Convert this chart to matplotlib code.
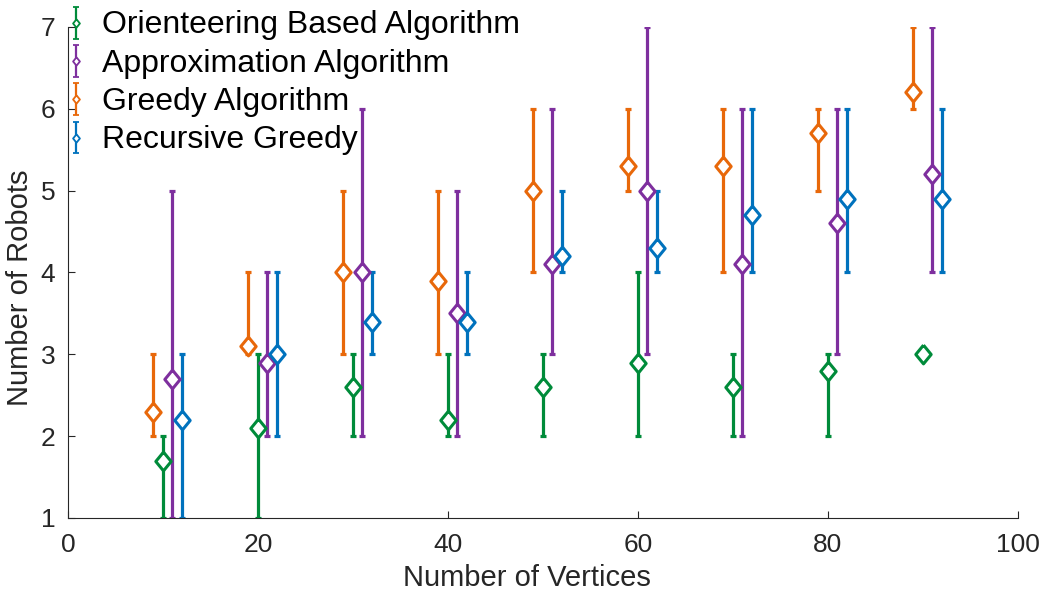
import matplotlib
matplotlib.use("Agg")
import matplotlib.pyplot as plt
import numpy as np

plt.rcParams['font.family'] = ['Liberation Sans', 'DejaVu Sans']

vertices = [10, 20, 30, 40, 50, 60, 70, 80, 90]

orient_mean = [1.7, 2.1, 2.6, 2.2, 2.6, 2.9, 2.6, 2.8, 3.0]
orient_min = [1, 1, 2, 2, 2, 2, 2, 2, 3]
orient_max = [2, 3, 3, 3, 3, 4, 3, 3, 3]

approx_mean = [2.7, 2.9, 4.0, 3.5, 4.1, 5.0, 4.1, 4.6, 5.2]
approx_min = [1, 2, 2, 2, 3, 3, 2, 3, 4]
approx_max = [5, 4, 6, 5, 6, 7, 6, 6, 7]

greedy_mean = [2.3, 3.1, 4.0, 3.9, 5.0, 5.3, 5.3, 5.7, 6.2]
greedy_min = [2, 3, 3, 3, 4, 5, 4, 5, 6]
greedy_max = [3, 4, 5, 5, 6, 6, 6, 6, 7]

recur_mean = [2.2, 3.0, 3.4, 3.4, 4.2, 4.3, 4.7, 4.9, 4.9]
recur_min = [1, 2, 3, 3, 4, 4, 4, 4, 4]
recur_max = [3, 4, 4, 4, 5, 5, 6, 6, 6]

series = [
    ("Orienteering Based Algorithm", 0, orient_mean, orient_min, orient_max, "#008B3A"),
    ("Approximation Algorithm", 1, approx_mean, approx_min, approx_max, "#7E2F9E"),
    ("Greedy Algorithm", -1, greedy_mean, greedy_min, greedy_max, "#E8680A"),
    ("Recursive Greedy", 2, recur_mean, recur_min, recur_max, "#0072BD"),
]

diamond = [(0, 1), (0.82, 0), (0, -1), (-0.82, 0), (0, 1)]

fig = plt.figure(figsize=(10.44, 5.93), dpi=100)
ax = fig.add_axes([0.0651, 0.1265, 0.9099, 0.828])

handles = []
for label, off, m, lo, hi, c in series:
    x = np.array(vertices) + off
    m = np.array(m); lo = np.array(lo); hi = np.array(hi)
    ax.errorbar(x, m, yerr=[m - lo, hi - m], fmt='none', ecolor=c,
                elinewidth=2.3, capsize=2.2, capthick=2.3, zorder=2)
    ax.plot(x, m, linestyle='none', marker=diamond, markersize=13.5,
            markerfacecolor='white', markeredgecolor=c, markeredgewidth=2.2,
            zorder=3)
    h = ax.errorbar([np.nan], [np.nan], yerr=[[0.5], [0.5]], linestyle='none',
                    marker=diamond, markersize=6, markerfacecolor='white',
                    markeredgecolor=c, markeredgewidth=1.3,
                    ecolor=c, elinewidth=1.6, capsize=2, capthick=1.6)
    handles.append(h)

ax.set_xlim(0, 100)
ax.set_ylim(1, 7)
ax.set_xticks([0, 20, 40, 60, 80, 100])
ax.set_yticks([1, 2, 3, 4, 5, 6, 7])
ax.spines['top'].set_visible(False)
ax.spines['right'].set_visible(False)
for s in ['left', 'bottom']:
    ax.spines[s].set_color('#262626')
    ax.spines[s].set_linewidth(0.8)
ax.tick_params(direction='in', length=5, width=0.8, colors='#262626',
               labelsize=19, labelcolor='#262626')
ax.tick_params(axis='x', pad=11)
ax.tick_params(axis='y', pad=9)
ax.set_xlabel("Number of Vertices", fontsize=21, color='#262626')
ax.set_ylabel("Number of Robots", fontsize=21, color='#262626')
ax.xaxis.set_label_coords(0.483, -0.093)
ax.yaxis.set_label_coords(-0.036, 0.468)

leg = ax.legend(handles, [s[0] for s in series], loc='upper left',
                bbox_to_anchor=(-0.013, 1.06), frameon=False, fontsize=23,
                handlelength=0.5, handletextpad=0.55, labelspacing=0.26,
                borderaxespad=0.0, handleheight=0.6)

fig.savefig("out.png", dpi=100)
